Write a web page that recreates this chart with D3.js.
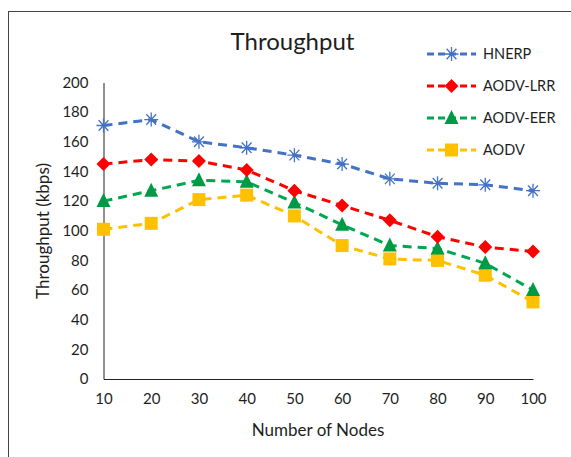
<!DOCTYPE html>
<html><head><meta charset="utf-8">
<script src="https://cdn.jsdelivr.net/npm/d3@7"></script>
<style>body{margin:0;background:#fff}svg{display:block}text{font-family:Lato,"Open Sans",sans-serif;fill:#1e1e1e}</style>
</head><body><div id="chart"></div>
<script>
const nodes = [10,20,30,40,50,60,70,80,90,100];
const hnerp   = [171,175,160,156,151,145,135,132,131,127];
const aodvLrr = [145,148,147,141,127,117,107,96,89,86];
const aodvEer = [120,127,134,133,119,104,90,88,78,60];
const aodv    = [101,105,121,124,110,90,81,80,70,52];
const yTicks  = [0,20,40,60,80,100,120,140,160,180,200];
const seriesNames = ["HNERP","AODV-LRR","AODV-EER","AODV"];

const series = [
  {name:seriesNames[0], values:hnerp,   color:"#4472C4", mcolor:"#4472C4", marker:"star"},
  {name:seriesNames[1], values:aodvLrr, color:"#FF0000", mcolor:"#FF0000", marker:"diamond"},
  {name:seriesNames[2], values:aodvEer, color:"#00A650", mcolor:"#009A44", marker:"triangle"},
  {name:seriesNames[3], values:aodv,    color:"#FFC000", mcolor:"#FFC000", marker:"square"}
];

const W=571,H=457;
const svg=d3.select("#chart").append("svg").attr("width",W).attr("height",H);
svg.append("rect").attr("x",8.5).attr("y",11.5).attr("width",600).attr("height",500)
  .attr("fill","none").attr("stroke","#444").attr("stroke-width",1);

const x=d3.scalePoint().domain(nodes).range([103.5,533]);
const y=d3.scaleLinear().domain([0,200]).range([379,82.5]);

// axes
const gy=svg.append("g").attr("transform","translate(103.5,0)")
  .call(d3.axisLeft(y).tickValues(yTicks).tickSize(0).tickPadding(15));
gy.select(".domain").attr("stroke","#222");
gy.selectAll("text").attr("font-size",15).style("font-family","Lato,sans-serif").attr("fill","#1e1e1e");
const gx=svg.append("g").attr("transform","translate(0,379)")
  .call(d3.axisBottom(x).tickSize(0).tickPadding(14));
gx.select(".domain").attr("stroke","#222");
gx.selectAll("text").attr("font-size",15).style("font-family","Lato,sans-serif").attr("fill","#1e1e1e");

svg.append("text").attr("x",292.5).attr("y",50).attr("text-anchor","middle")
  .attr("font-size",24).text("Throughput");
svg.append("text").attr("x",318).attr("y",436).attr("text-anchor","middle")
  .attr("font-size",17).text("Number of Nodes");
svg.append("text").attr("transform","translate(49,231) rotate(-90)").attr("text-anchor","middle")
  .attr("font-size",17).text("Throughput (kbps)");

const line=d3.line().x((d,i)=>x(nodes[i])).y(d=>y(d));

function drawMarker(g,type,cx,cy,col){
  if(type==="star"){
    const r=7;
    const p=`M${cx-r},${cy}L${cx+r},${cy}M${cx-r*0.7},${cy-r*0.75}L${cx+r*0.7},${cy+r*0.75}M${cx-r*0.7},${cy+r*0.75}L${cx+r*0.7},${cy-r*0.75}M${cx},${cy-r}L${cx},${cy+r}`;
    g.append("path").attr("d",p).attr("stroke",col).attr("stroke-width",1.3).attr("fill","none");
  } else if(type==="diamond"){
    const r=7;
    g.append("path").attr("d",`M${cx},${cy-r}L${cx+r},${cy}L${cx},${cy+r}L${cx-r},${cy}Z`).attr("fill",col);
  } else if(type==="triangle"){
    const r=7;
    g.append("path").attr("d",`M${cx},${cy-r-1}L${cx+r},${cy+r-1}L${cx-r},${cy+r-1}Z`).attr("fill",col);
  } else {
    const r=6.5;
    g.append("rect").attr("x",cx-r).attr("y",cy-r).attr("width",2*r).attr("height",2*r).attr("fill",col);
  }
}

const order=[3,2,1,0];
order.forEach(k=>{
  const s=series[k];
  const g=svg.append("g");
  g.append("path").datum(s.values).attr("d",line).attr("fill","none")
    .attr("stroke",s.color).attr("stroke-width",3).attr("stroke-dasharray","9,6");
  s.values.forEach((v,i)=>drawMarker(g,s.marker,x(nodes[i]),y(v),s.mcolor));
});

// legend
const legY=[54,86,118,150];
series.forEach((s,i)=>{
  const g=svg.append("g");
  const ly=legY[i];
  g.append("line").attr("x1",427).attr("x2",476).attr("y1",ly).attr("y2",ly)
    .attr("stroke",s.color).attr("stroke-width",3).attr("stroke-dasharray","7,4");
  drawMarker(g,s.marker,451.5,ly,s.mcolor);
  g.append("text").attr("x",483).attr("y",ly+5).attr("font-size",14.5).text(s.name);
});
</script></body></html>
